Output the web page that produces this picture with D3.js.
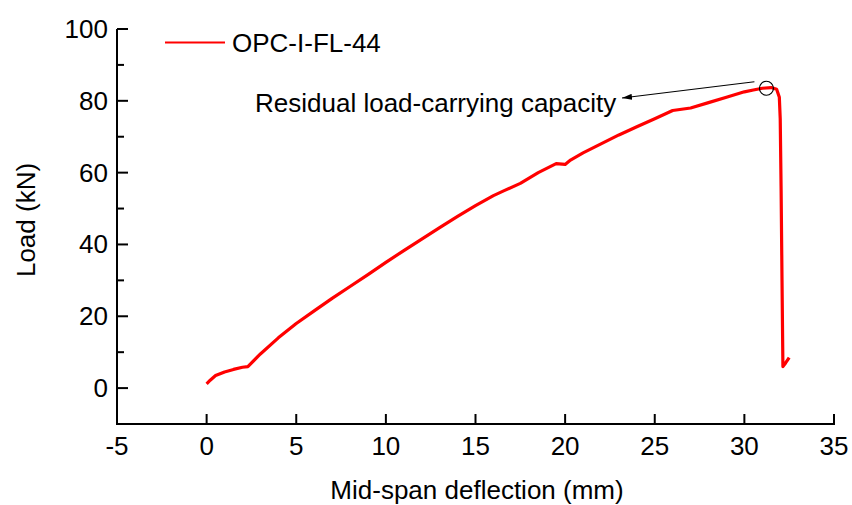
<!DOCTYPE html>
<html><head><meta charset="utf-8">
<script src="https://cdn.jsdelivr.net/npm/d3@7"></script>
<style>body{margin:0;background:#fff}svg{display:block}text{font-family:"Liberation Sans",Arial,sans-serif;fill:#000}</style>
</head><body><svg id="c" width="852" height="505"></svg>
<script>
const deflection = [0,0.2,0.5,1.0,1.5,2.0,2.3,3,4,5,6,7,8,9,10,11,12,13,14,15,16,16.6,17.5,18.5,19.5,20.0,20.3,21,22,23,24,25,26,27,28,29,30,30.5,31,31.5,31.8,31.95,32.0,32.05,32.1,32.15,32.3,32.5];
const load =       [1.2,2.2,3.5,4.5,5.2,5.8,6.0,9.5,14,18,21.5,25,28.3,31.6,35,38.3,41.5,44.7,47.8,50.8,53.6,55,57,60,62.5,62.3,63.5,65.5,68,70.5,72.8,75,77.3,78,79.5,81,82.5,83,83.5,83.7,83.2,81,75,55,30,6,7,8.5];
const xTicks = [-5,0,5,10,15,20,25,30,35];
const yTicks = [0,20,40,60,80,100];
const yMinor = [10,30,50,70,90];
const seriesName = "OPC-I-FL-44";
const annotation = {text:"Residual load-carrying capacity", x:31.23, y:83.5};

const svg = d3.select("#c");
const x = d3.scaleLinear().domain([-5,35]).range([117,834]);
const y = d3.scaleLinear().domain([-10,100]).range([424,29]);
const fs = 26;

// axes
const g = svg.append("g");
g.append("line").attr("x1",117).attr("x2",117).attr("y1",y(100)).attr("y2",y(-10)).attr("stroke","#000").attr("stroke-width",2);
g.append("line").attr("x1",x(-5)-1).attr("x2",x(35)+1).attr("y1",424).attr("y2",424).attr("stroke","#000").attr("stroke-width",2);
g.selectAll(".yt").data(yTicks).join("line").attr("x1",117).attr("x2",128).attr("y1",d=>y(d)).attr("y2",d=>y(d)).attr("stroke","#000").attr("stroke-width",2);
g.selectAll(".ym").data(yMinor).join("line").attr("class","ym").attr("x1",117).attr("x2",124).attr("y1",d=>y(d)).attr("y2",d=>y(d)).attr("stroke","#000").attr("stroke-width",2);
g.selectAll(".xt").data(xTicks).join("line").attr("class","xt").attr("x1",d=>x(d)).attr("x2",d=>x(d)).attr("y1",424).attr("y2",414).attr("stroke","#000").attr("stroke-width",2);
g.selectAll(".yl").data(yTicks).join("text").attr("class","yl").attr("x",108).attr("y",d=>y(d)+9).attr("text-anchor","end").attr("font-size",fs).text(d=>d);
g.selectAll(".xl").data(xTicks).join("text").attr("class","xl").attr("x",d=>x(d)).attr("y",455).attr("text-anchor","middle").attr("font-size",fs).text(d=>d);
svg.append("text").attr("x",477).attr("y",499).attr("text-anchor","middle").attr("font-size",fs).text("Mid-span deflection (mm)");
svg.append("text").attr("transform","translate(35,220) rotate(-90)").attr("text-anchor","middle").attr("font-size",fs).text("Load (kN)");

// curve
const pts = deflection.map((d,i)=>[d,load[i]]);
svg.append("path").datum(pts).attr("fill","none").attr("stroke","#ff0000").attr("stroke-width",3.2).attr("stroke-linejoin","round")
  .attr("d",d3.line().x(d=>x(d[0])).y(d=>y(d[1])));

// legend
svg.append("line").attr("x1",165).attr("x2",225).attr("y1",42.5).attr("y2",42.5).attr("stroke","#ff0000").attr("stroke-width",2);
svg.append("text").attr("x",232).attr("y",52).attr("font-size",fs).text(seriesName);

// annotation
const cx = x(annotation.x), cy = y(annotation.y);
svg.append("circle").attr("cx",cx).attr("cy",cy).attr("r",7).attr("fill","none").attr("stroke","#000").attr("stroke-width",1.2);
svg.append("defs").append("marker").attr("id","ah").attr("viewBox","0 0 10 6").attr("refX",10).attr("refY",3)
  .attr("markerWidth",10).attr("markerHeight",6).attr("markerUnits","userSpaceOnUse").attr("orient","auto")
  .append("path").attr("d","M0,0L10,3L0,6Z").attr("fill","#000");
svg.append("line").attr("x1",cx-12).attr("y1",cy-6.5).attr("x2",622).attr("y2",98).attr("stroke","#000").attr("stroke-width",1.2).attr("marker-end","url(#ah)");
svg.append("text").attr("x",255).attr("y",112).attr("font-size",fs).text(annotation.text);
</script></body></html>
